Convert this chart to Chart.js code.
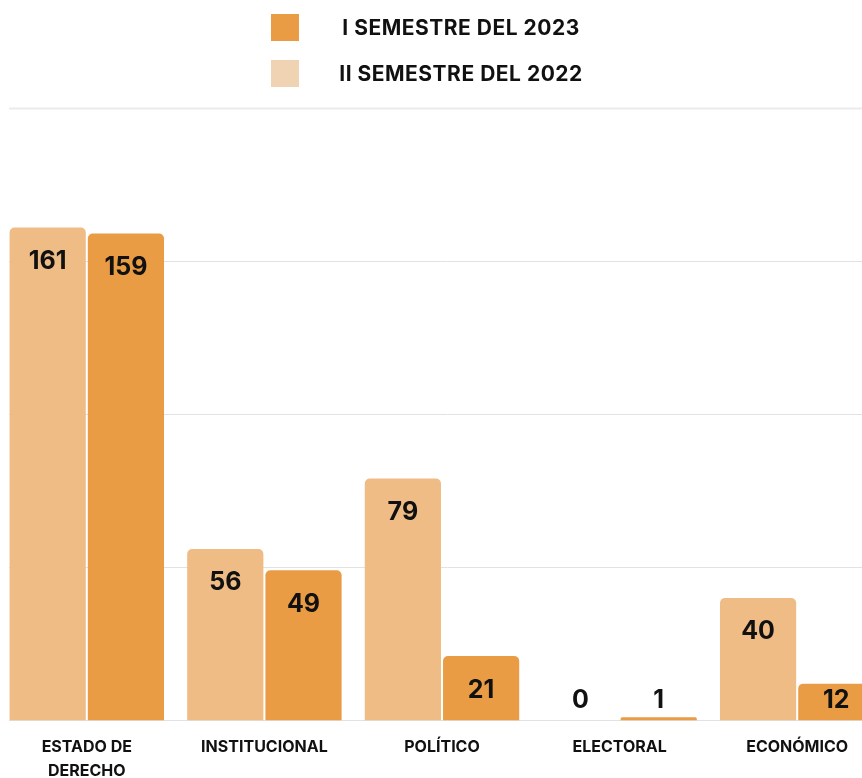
<!DOCTYPE html>
<html>
<head>
<meta charset="utf-8">
<script src="https://cdn.jsdelivr.net/npm/chart.js@4.4.0/dist/chart.umd.min.js"></script>
<style>
  body { margin: 0; background: #fff; overflow: hidden; font-family: Inter, "Noto Sans", sans-serif; }
  #wrap { position: relative; width: 862px; height: 778px; overflow: hidden; }
  #box { position: absolute; left: -10px; top: 0; width: 896px; height: 797px; }
  #legend { position: absolute; left: 0; top: 0; width: 862px; }
  .item { position: absolute; left: 271px; width: 330px; height: 28px; }
  .sw { position: absolute; left: 0; top: 0; width: 28px; height: 27px; }
  .txt { position: absolute; left: 50px; width: 280px; top: 0; line-height: 28px; text-align: center;
         font-weight: 700; font-size: 21px; letter-spacing: 0.5px; color: #111; }
</style>
</head>
<body>
<div id="wrap">
  <div id="box"><canvas id="barChart"></canvas></div>
  <div id="legend"></div>
</div>
<script>
// chart values
const categories = [['ESTADO DE', 'DERECHO'], 'INSTITUCIONAL', 'POLÍTICO', 'ELECTORAL', 'ECONÓMICO'];
const sem2_2022 = [161, 56, 79, 0, 40];
const sem1_2023 = [159, 49, 21, 1, 12];
const yTicks = [0, 50, 100, 150, 200];

const lightColor = '#EFBC85';
const darkColor = '#EA9C45';

// grid lines drawn from the y scale, starting a bit in from the left edge
const gridPlugin = {
    id: 'gridLines',
    beforeDatasetsDraw(chart) {
        const ctx = chart.ctx;
        const y = chart.scales.y;
        ctx.save();
        for (const t of yTicks) {
            const py = Math.round(y.getPixelForValue(t)) + 0.5;
            ctx.strokeStyle = t === 200 ? '#ebebeb' : '#e2e2e2';
            ctx.lineWidth = t === 200 ? 2 : 1;
            ctx.beginPath();
            ctx.moveTo(19, py);
            ctx.lineTo(chart.width, py);
            ctx.stroke();
        }
        ctx.restore();
    }
};

// value labels inside the bars (or just above the baseline for tiny bars)
const valuePlugin = {
    id: 'valueLabels',
    afterDatasetsDraw(chart) {
        const ctx = chart.ctx;
        const base = chart.scales.y.getPixelForValue(0);
        ctx.save();
        ctx.font = '700 25px Inter, sans-serif';
        ctx.fillStyle = '#111';
        ctx.textAlign = 'center';
        ctx.textBaseline = 'middle';
        chart.data.datasets.forEach((ds, i) => {
            chart.getDatasetMeta(i).data.forEach((bar, j) => {
                const py = Math.min(bar.y + 34, base - 20);
                ctx.fillText(ds.data[j], bar.x, py);
            });
        });
        ctx.restore();
    }
};

const ctx = document.getElementById('barChart').getContext('2d');
const barChart = new Chart(ctx, {
    type: 'bar',
    data: {
        labels: categories,
        datasets: [{
            label: 'II SEMESTRE DEL 2022',
            data: sem2_2022,
            backgroundColor: lightColor,
            legendColor: '#F0D3B3',
            borderRadius: { topLeft: 5, topRight: 5 },
            borderSkipped: 'bottom'
        }, {
            label: 'I SEMESTRE DEL 2023',
            data: sem1_2023,
            backgroundColor: darkColor,
            legendColor: '#EA9C45',
            borderRadius: { topLeft: 5, topRight: 5 },
            borderSkipped: 'bottom'
        }]
    },
    options: {
        responsive: true,
        maintainAspectRatio: false,
        animation: false,
        categoryPercentage: 0.881,
        barPercentage: 0.974,
        layout: { padding: { top: 108, bottom: 7, left: 0, right: 0 } },
        plugins: {
            legend: { display: false },
            tooltip: { enabled: false }
        },
        scales: {
            x: {
                grid: { display: false },
                border: { display: false },
                ticks: {
                    color: '#111',
                    padding: 6,
                    maxRotation: 0,
                    autoSkip: false,
                    font: { family: 'Inter', weight: '700', size: 16, lineHeight: 1.55 }
                }
            },
            y: {
                min: 0,
                max: 200,
                grid: { display: false },
                border: { display: false },
                ticks: { display: false, stepSize: 50 }
            }
        }
    },
    plugins: [gridPlugin, valuePlugin]
});

// legend, newest semester first
const legendDiv = document.getElementById('legend');
barChart.data.datasets.slice().reverse().forEach((ds, i) => {
    const item = document.createElement('div');
    item.className = 'item';
    item.style.top = (14 + i * 46) + 'px';
    const sw = document.createElement('div');
    sw.className = 'sw';
    sw.style.background = ds.legendColor;
    const txt = document.createElement('div');
    txt.className = 'txt';
    txt.textContent = ds.label;
    item.appendChild(sw);
    item.appendChild(txt);
    legendDiv.appendChild(item);
});
</script>
</body>
</html>
